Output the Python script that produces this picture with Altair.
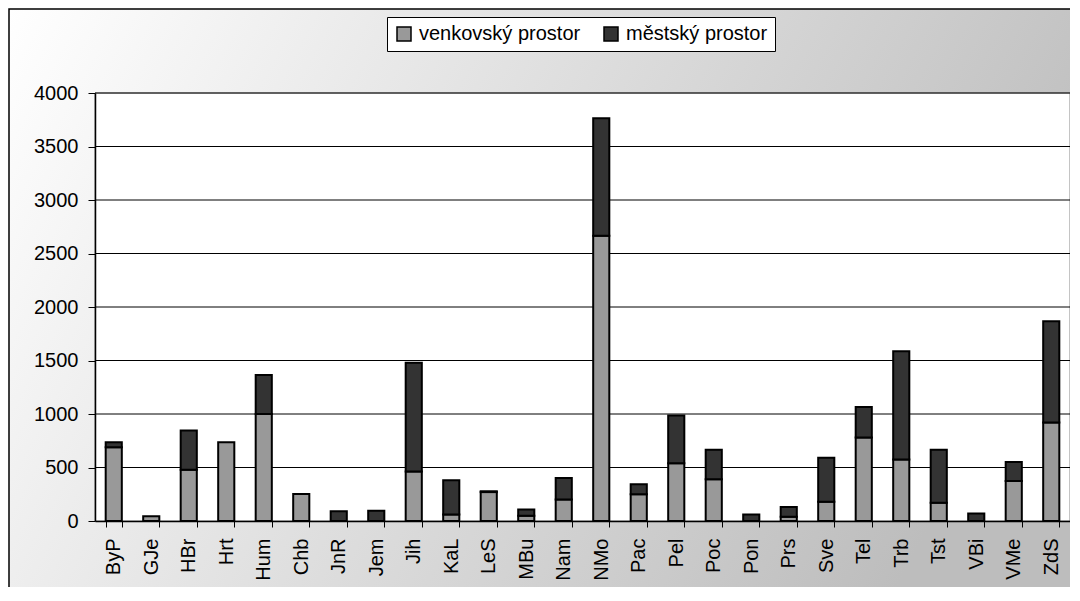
import altair as alt
import pandas as pd

# ---- data ----
categories = ["ByP", "GJe", "HBr", "Hrt", "Hum", "Chb", "JnR", "Jem", "Jih", "KaL",
              "LeS", "MBu", "Nam", "NMo", "Pac", "Pel", "Poc", "Pon", "Prs", "Sve",
              "Tel", "Trb", "Tst", "VBi", "VMe", "ZdS"]
venkovsky = [690, 45, 480, 735, 1000, 252, 0, 0, 462, 60,
             270, 50, 200, 2665, 250, 540, 390, 0, 40, 180,
             780, 575, 170, 0, 375, 920]
mestsky = [45, 0, 365, 0, 365, 0, 90, 95, 1016, 320,
           8, 58, 202, 1100, 93, 445, 277, 60, 90, 412,
           286, 1012, 497, 70, 176, 947]
series = ["venkovský prostor", "městský prostor"]
series_colors = ["#999999", "#333333"]
y_ticks = [0, 500, 1000, 1500, 2000, 2500, 3000, 3500, 4000]

rows = []
for c, v, m in zip(categories, venkovsky, mestsky):
    if v > 0:
        rows.append({"cat": c, "series": series[0], "val": v, "ord": 0})
    if m > 0:
        rows.append({"cat": c, "series": series[1], "val": m, "ord": 1})
df = pd.DataFrame(rows)
grid_df = pd.DataFrame({"g": y_ticks[1:]})
one = pd.DataFrame({"a": [0]})

W, H = 975, 428
FONT = "Liberation Sans"

yscale = alt.Scale(domain=[0, 4000], nice=False)
yaxis = alt.Axis(values=y_ticks, format="d", title=None, grid=False, domainColor="black",
                 domainWidth=1.5, tickColor="black", tickSize=7, tickWidth=1,
                 labelFontSize=20, labelFont=FONT, labelColor="black",
                 labelPadding=10, zindex=1)

bg = alt.Chart(one).mark_rect(
    color=alt.LinearGradient(gradient="linear",
                             stops=[alt.GradientStop(color="#ffffff", offset=0),
                                    alt.GradientStop(color="#bdbdbd", offset=1)],
                             x1=0, x2=1, y1=0, y2=0.3),
    stroke="black", strokeWidth=1.5
).encode(x=alt.value(-86), x2=alt.value(W + 40), y=alt.value(-84), y2=alt.value(H + 100))

plot_bg = alt.Chart(one).mark_rect(fill="white", stroke="#888888", strokeWidth=1).encode(
    x=alt.value(0), x2=alt.value(W), y=alt.value(0), y2=alt.value(H))

grid = alt.Chart(grid_df).mark_rule(color="black", strokeWidth=1).encode(
    y=alt.Y("g:Q", scale=yscale, axis=yaxis))

bars = alt.Chart(df).mark_bar(stroke="black", strokeWidth=2).encode(
    x=alt.X("cat:N", sort=categories,
            scale=alt.Scale(paddingInner=0.57, paddingOuter=0.285),
            axis=alt.Axis(title=None, labelAngle=270, labelAlign="right",
                          labelBaseline="middle", labelFontSize=20, labelFont=FONT,
                          labelColor="black", labelPadding=11, tickBand="extent",
                          tickColor="black", tickSize=6, domainColor="black",
                          domainWidth=1.5, zindex=1)),
    y=alt.Y("val:Q", stack="zero", scale=yscale, axis=yaxis),
    color=alt.Color("series:N", scale=alt.Scale(domain=series, range=series_colors),
                    legend=alt.Legend(title=None, orient="none", legendX=292, legendY=-76,
                                      direction="horizontal", fillColor="white",
                                      strokeColor="black", padding=7,
                                      symbolType="square", symbolSize=196,
                                      symbolStrokeColor="black", symbolStrokeWidth=1.5,
                                      symbolOpacity=1, labelLimit=0,
                                      labelFontSize=20, labelFont=FONT, labelColor="black",
                                      labelOffset=5, columnPadding=20)),
    order=alt.Order("ord:Q")
)

chart = alt.layer(bg, plot_bg, grid, bars).properties(
    width=W, height=H,
    autosize=alt.AutoSizeParams(type="none"),
    padding={"left": 87, "top": 85, "right": 0, "bottom": 66},
).configure_view(stroke=None)

chart.save("out.html", embed_options={"renderer": "svg", "actions": False})
